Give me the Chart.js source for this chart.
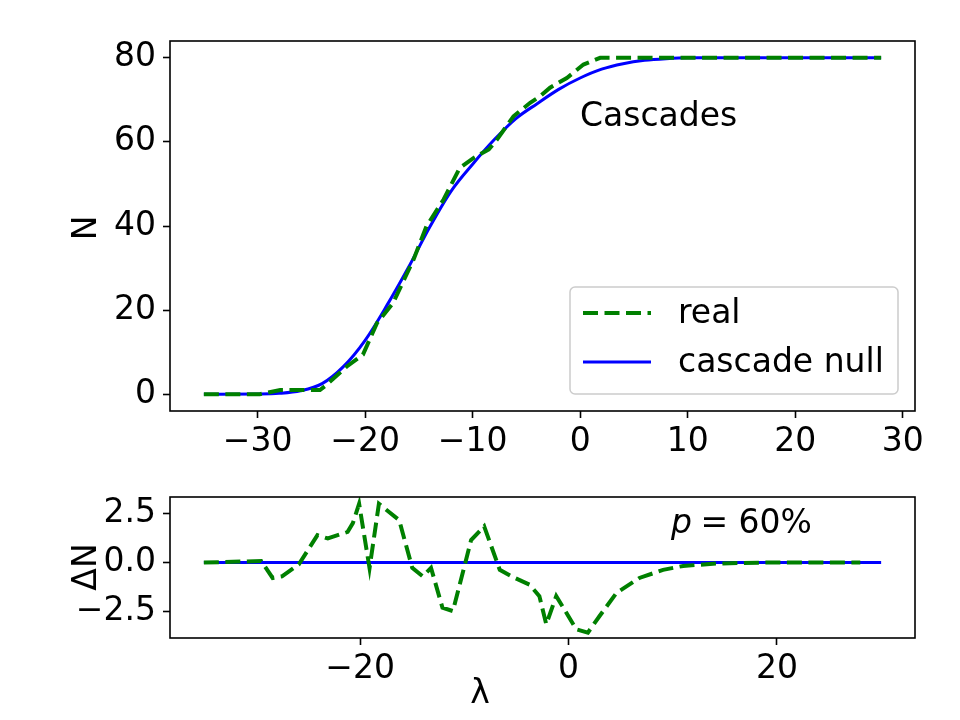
<!DOCTYPE html>
<html>
<head>
<meta charset="utf-8">
<script src="https://cdn.jsdelivr.net/npm/chart.js@4.4.1/dist/chart.umd.min.js"></script>
<style>
  body { margin: 0; background: #fff; }
  #wrap { position: relative; width: 960px; height: 720px; }
  canvas { position: absolute; left: 0; }
</style>
</head>
<body>
<div id="wrap">
  <canvas id="top" width="960" height="460" style="top:0"></canvas>
  <canvas id="bottom" width="960" height="260" style="top:460px"></canvas>
</div>
<script>
'use strict';
// top panel: cumulative number of cascades
const realLambda = [-35, -29.8, -27.9, -24.2, -23.6, -21.7, -20.2, -18.9, -17.4, -15.5, -14.3, -12.7, -11.2, -9.9, -8.5, -7.75, -6.2, -4.65, -3.7, -2.8, -1.24, 0.31, 1.86, 28];
const realN = [0, 0, 1, 1, 2.2, 6.6, 9.4, 16.9, 21.7, 32, 39.9, 46.3, 53.8, 56.2, 58.2, 60.5, 66.1, 69.3, 70.9, 72.9, 75.2, 78.4, 80, 80];
const nullLambda = [-35, -30, -28, -26, -24, -22, -20, -18, -16, -14, -12, -10, -8, -6, -4, -2, 0, 2, 4, 6, 8, 10, 28];
const nullN = [0, 0.05, 0.2, 0.8, 2.5, 6.6, 12.8, 21, 30, 39.7, 48.3, 54.7, 60.5, 65.5, 69.1, 72.5, 75.2, 77.3, 78.6, 79.4, 79.8, 80, 80];

// bottom panel: difference
const diffLambda = [-35, -29.5, -28.4, -27.5, -25.9, -24.1, -23.1, -21.2, -20.7, -20.1, -19.1, -18.2, -16.25, -15, -14, -13.2, -12.1, -11.1, -9.35, -8.1, -6.6, -5.35, -3.75, -2.8, -2.14, -1.18, 0.74, 1.86, 2.98, 4.6, 6.8, 9.07, 11, 14.2, 18.7, 28];
const diffN = [0, 0.08, -0.78, -0.7, -0.1, 1.39, 1.22, 1.56, 2.0, 2.98, -0.28, 2.98, 2.15, -0.27, -0.7, -0.27, -2.29, -2.46, 1.14, 1.84, -0.37, -0.73, -1.12, -1.7, -3.13, -1.7, -3.38, -3.55, -2.71, -1.54, -0.78, -0.37, -0.17, -0.05, 0, 0];
const diffNullLambda = [-35, 30];
const diffNullN = [0, 0];

const topXTicks = [-30, -20, -10, 0, 10, 20, 30];
const topYTicks = [0, 20, 40, 60, 80];
const bottomXTicks = [-20, 0, 20];
const bottomYTicks = [-2.5, 0, 2.5];

const FONT = 'DejaVu Sans';
const FS = 33;
const GREEN = '#008000';
const BLUE = '#0000ff';

function zip(xs, ys) {
  return xs.map((x, i) => ({ x: x, y: ys[i] }));
}
function minus(v, digits) {
  let s = digits ? Math.abs(v).toFixed(digits) : String(Math.abs(v));
  return v < 0 ? '\u2212' + s : s;
}

const frame = {
  id: 'frame',
  afterDraw(chart) {
    const a = chart.chartArea;
    const ctx = chart.ctx;
    ctx.save();
    ctx.strokeStyle = '#000';
    ctx.lineWidth = 1.6;
    ctx.strokeRect(a.left, a.top, a.right - a.left, a.bottom - a.top);
    ctx.restore();
  }
};

function axis(min, max, ticks, fmt, fitSize, isX) {
  return {
    type: 'linear',
    min: min,
    max: max,
    afterBuildTicks: s => { s.ticks = ticks.map(v => ({ value: v })); },
    afterFit: s => { if (isX) s.height = fitSize; else s.width = fitSize; },
    border: { display: false },
    grid: { drawOnChartArea: false, drawTicks: true, tickLength: 7, tickWidth: 1.6, tickColor: '#000' },
    ticks: { color: '#000', padding: isX ? 5 : 7, font: { family: FONT, size: FS }, callback: fmt, maxRotation: 0, autoSkip: false }
  };
}

function lineSet(label, data, color, width, dash, smooth) {
  return {
    label: label,
    data: data,
    borderColor: color,
    backgroundColor: color,
    borderWidth: width,
    borderDash: dash,
    pointRadius: 0,
    fill: false,
    tension: 0,
    cubicInterpolationMode: smooth ? 'monotone' : 'default'
  };
}

const topTexts = {
  id: 'topTexts',
  afterDraw(chart) {
    const ctx = chart.ctx;
    ctx.save();
    ctx.fillStyle = '#000';
    ctx.font = FS + 'px "' + FONT + '"';
    ctx.textBaseline = 'alphabetic';
    ctx.fillText('Cascades', 580, 126);
    // y label
    ctx.save();
    ctx.translate(96, 228);
    ctx.rotate(-Math.PI / 2);
    ctx.textAlign = 'center';
    ctx.fillText('N', 0, 0);
    ctx.restore();
    // legend
    const bx = 570, by = 287, bw = 328, bh = 107;
    ctx.beginPath();
    ctx.roundRect(bx, by, bw, bh, 5);
    ctx.fillStyle = 'rgba(255,255,255,0.8)';
    ctx.fill();
    ctx.strokeStyle = '#cccccc';
    ctx.lineWidth = 1.5;
    ctx.stroke();
    const ds = chart.data.datasets;
    const rows = [313, 362];
    ds.forEach((d, i) => {
      ctx.beginPath();
      ctx.setLineDash(d.borderDash || []);
      ctx.strokeStyle = d.borderColor;
      ctx.lineWidth = d.borderWidth;
      ctx.moveTo(583, rows[i]);
      ctx.lineTo(651, rows[i]);
      ctx.stroke();
      ctx.setLineDash([]);
      ctx.fillStyle = '#000';
      ctx.textBaseline = 'middle';
      ctx.fillText(d.label, 678, rows[i] + 1);
    });
    ctx.restore();
  }
};

const bottomTexts = {
  id: 'bottomTexts',
  afterDraw(chart) {
    const ctx = chart.ctx;
    ctx.save();
    ctx.fillStyle = '#000';
    ctx.textBaseline = 'alphabetic';
    ctx.font = 'italic ' + FS + 'px "' + FONT + '"';
    ctx.fillText('p', 671, 73);
    const pw = ctx.measureText('p').width;
    ctx.font = FS + 'px "' + FONT + '"';
    ctx.fillText(' = 60%', 669 + pw, 73);
    ctx.save();
    ctx.translate(96, 107);
    ctx.rotate(-Math.PI / 2);
    ctx.textAlign = 'center';
    ctx.fillText('\u0394N', 0, 0);
    ctx.restore();
    ctx.textAlign = 'center';
    ctx.fillText('\u03bb', 480, 243);
    ctx.restore();
  }
};

new Chart(document.getElementById('top').getContext('2d'), {
  type: 'line',
  data: {
    datasets: [
      lineSet('real', zip(realLambda, realN), GREEN, 4, [15, 6.5], false),
      lineSet('cascade null', zip(nullLambda, nullN), BLUE, 3, [], true)
    ]
  },
  options: {
    responsive: false,
    animation: false,
    devicePixelRatio: 1,
    layout: { padding: { top: 41, right: 45, left: 0, bottom: 0 } },
    plugins: { legend: { display: false }, tooltip: { enabled: false } },
    scales: {
      x: axis(-38.15, 31.15, topXTicks, v => minus(v), 49, true),
      y: axis(-4, 84, topYTicks, v => minus(v), 170, false)
    }
  },
  plugins: [frame, topTexts]
});

new Chart(document.getElementById('bottom').getContext('2d'), {
  type: 'line',
  data: {
    datasets: [
      lineSet('real', zip(diffLambda, diffN), GREEN, 4, [15, 6.5], false),
      lineSet('cascade null', zip(diffNullLambda, diffNullN), BLUE, 3, [], false)
    ]
  },
  options: {
    responsive: false,
    animation: false,
    devicePixelRatio: 1,
    layout: { padding: { top: 37, right: 45, left: 0, bottom: 0 } },
    plugins: { legend: { display: false }, tooltip: { enabled: false } },
    scales: {
      x: axis(-38.25, 33.25, bottomXTicks, v => minus(v), 82, true),
      y: axis(-3.825, 3.325, bottomYTicks, v => minus(v, 1), 170, false)
    }
  },
  plugins: [frame, bottomTexts]
});
</script>
</body>
</html>
